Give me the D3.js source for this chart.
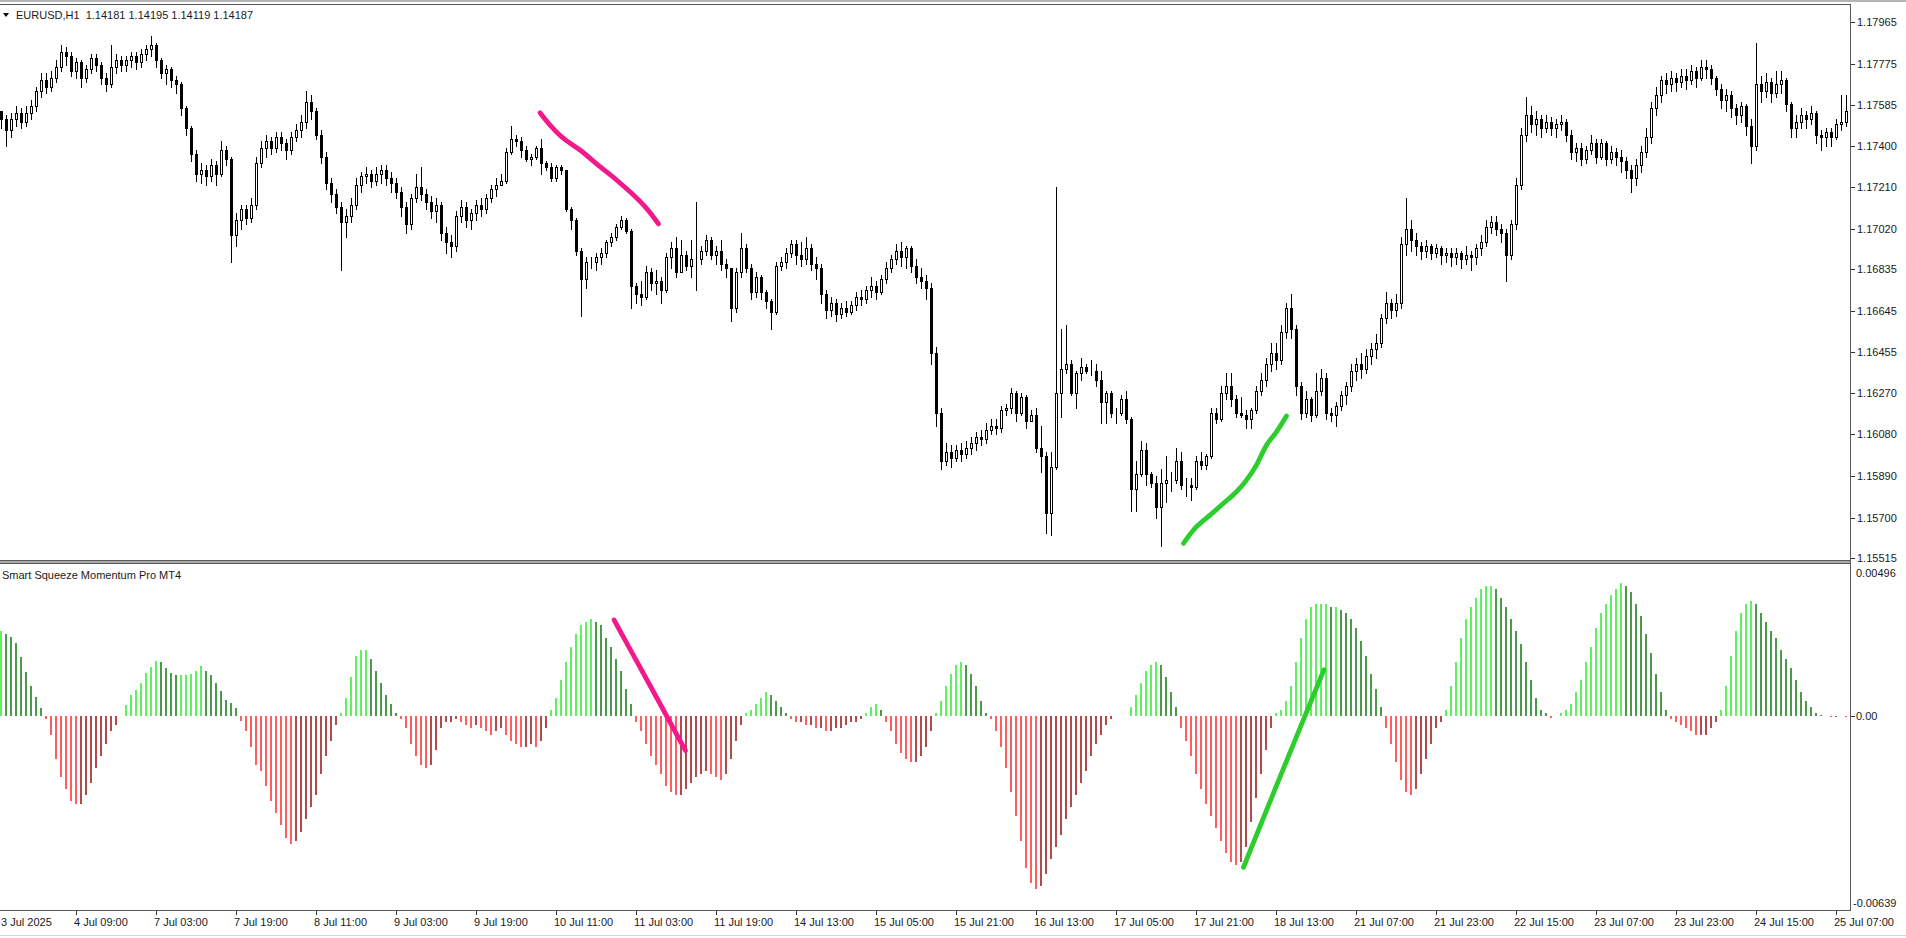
<!DOCTYPE html>
<html><head><meta charset="utf-8">
<script src="https://cdn.jsdelivr.net/npm/d3@7"></script>
<style>
html,body{margin:0;padding:0;background:#fff;overflow:hidden}
svg{display:block;font-family:"Liberation Sans",Arial,sans-serif;font-size:11px}
text{white-space:pre}
</style></head><body>
<svg id="c" width="1906" height="938"></svg>
<script>
// ---------- DATA ----------
const symbolTitle = "EURUSD,H1  1.14181 1.14195 1.14119 1.14187";
const indicatorTitle = "Smart Squeeze Momentum Pro MT4";
const firstOpen = 1.1756;
const close = [
1.1752,1.1747,1.1752,1.1755,1.1751,1.1755,1.1758,1.1765,1.1770,1.1767,
1.1771,1.1776,1.1783,1.1781,1.1774,1.1778,1.1771,1.1775,1.1780,1.1777,
1.1771,1.1768,1.1776,1.1779,1.1777,1.1779,1.1781,1.1778,1.1782,1.1784,
1.1786,1.1779,1.1773,1.1775,1.1770,1.1768,1.1757,1.1748,1.1736,1.1727,
1.1729,1.1726,1.1731,1.1727,1.1738,1.1734,1.1699,1.1706,1.1711,1.1707,
1.1713,1.1732,1.1739,1.1742,1.1739,1.1744,1.1741,1.1738,1.1744,1.1747,
1.1751,1.1760,1.1756,1.1745,1.1735,1.1723,1.1718,1.1712,1.1705,1.1708,
1.1713,1.1722,1.1726,1.1727,1.1724,1.1727,1.1729,1.1725,1.1723,1.1719,
1.1712,1.1704,1.1716,1.1721,1.1718,1.1714,1.1710,1.1713,1.1700,1.1696,
1.1694,1.1708,1.1712,1.1706,1.1709,1.1713,1.1711,1.1716,1.1720,1.1722,
1.1724,1.1737,1.1743,1.1742,1.1738,1.1734,1.1735,1.1739,1.1732,1.1730,
1.1725,1.1730,1.1729,1.1711,1.1706,1.1692,1.1679,1.1687,1.1687,1.1689,
1.1691,1.1696,1.1698,1.1703,1.1706,1.1701,1.1676,1.1672,1.1671,1.1682,
1.1677,1.1678,1.1674,1.1689,1.1693,1.1682,1.1690,1.1685,1.1688,1.1688,
1.1692,1.1697,1.1690,1.1692,1.1686,1.1684,1.1666,1.1682,1.1693,1.1684,
1.1673,1.1680,1.1673,1.1669,1.1664,1.1685,1.1687,1.1691,1.1695,1.1690,
1.1688,1.1693,1.1686,1.1684,1.1672,1.1665,1.1668,1.1663,1.1666,1.1664,
1.1667,1.1671,1.1670,1.1674,1.1676,1.1673,1.1679,1.1684,1.1688,1.1692,
1.1689,1.1693,1.1685,1.1680,1.1678,1.1675,1.1645,1.1618,1.1596,1.1600,
1.1597,1.1601,1.1599,1.1602,1.1604,1.1607,1.1606,1.1610,1.1612,1.1611,
1.1619,1.1620,1.1627,1.1618,1.1625,1.1614,1.1617,1.1602,1.1598,1.1572,
1.1593,1.1627,1.1638,1.1640,1.1627,1.1636,1.1639,1.1637,1.1637,1.1633,
1.1623,1.1627,1.1618,1.1618,1.1624,1.1615,1.1583,1.1590,1.1601,1.1590,
1.1586,1.1575,1.1586,1.1587,1.1587,1.1596,1.1585,1.1585,1.1584,1.1596,
1.1594,1.1598,1.1618,1.1615,1.1627,1.1630,1.1624,1.1618,1.1617,1.1615,
1.1619,1.1628,1.1633,1.1640,1.1645,1.1642,1.1655,1.1666,1.1656,1.1630,
1.1618,1.1624,1.1617,1.1628,1.1634,1.1618,1.1617,1.1621,1.1626,1.1630,
1.1637,1.1640,1.1638,1.1644,1.1647,1.1650,1.1661,1.1668,1.1665,1.1668,
1.1695,1.1702,1.1697,1.1694,1.1692,1.1694,1.1691,1.1693,1.1690,1.1691,
1.1689,1.1691,1.1688,1.1690,1.1689,1.1693,1.1696,1.1703,1.1705,1.1702,
1.1700,1.1690,1.1704,1.1722,1.1745,1.1754,1.1750,1.1752,1.1748,1.1751,
1.1748,1.1750,1.1751,1.1745,1.1737,1.1739,1.1734,1.1738,1.1741,1.1735,
1.1741,1.1734,1.1737,1.1735,1.1733,1.1729,1.1725,1.1731,1.1737,1.1744,
1.1757,1.1763,1.1770,1.1768,1.1771,1.1769,1.1772,1.1770,1.1774,1.1771,
1.1776,1.1775,1.1771,1.1766,1.1761,1.1763,1.1757,1.1754,1.1758,1.1749,
1.1740,1.1768,1.1765,1.1769,1.1764,1.1768,1.1770,1.1759,1.1748,1.1751,
1.1754,1.1752,1.1755,1.1745,1.1744,1.1746,1.1744,1.1750,1.1751,1.1756];
const high = [
1.1756,1.1754,1.1755,1.1758,1.1757,1.1758,1.1761,1.1767,1.1773,1.1773,
1.1774,1.1779,1.1786,1.1785,1.1783,1.1780,1.1779,1.1777,1.1782,1.1782,
1.1778,1.1773,1.1786,1.1782,1.1781,1.1781,1.1783,1.1783,1.1784,1.1786,
1.1790,1.1787,1.1780,1.1777,1.1776,1.1772,1.1769,1.1758,1.1749,1.1738,
1.1732,1.1731,1.1734,1.1733,1.1742,1.1740,1.1735,1.1709,1.1713,1.1713,
1.1716,1.1735,1.1742,1.1745,1.1744,1.1746,1.1746,1.1743,1.1746,1.1750,
1.1754,1.1765,1.1763,1.1757,1.1747,1.1737,1.1725,1.1720,1.1714,1.1711,
1.1716,1.1725,1.1728,1.1730,1.1729,1.1730,1.1731,1.1731,1.1728,1.1725,
1.1721,1.1714,1.1718,1.1727,1.1730,1.1720,1.1717,1.1716,1.1714,1.1703,
1.1699,1.1710,1.1715,1.1714,1.1711,1.1715,1.1716,1.1718,1.1722,1.1725,
1.1727,1.1739,1.1749,1.1745,1.1744,1.1740,1.1736,1.1740,1.1743,1.1733,
1.1732,1.1731,1.1731,1.1729,1.1712,1.1707,1.1693,1.1689,1.1689,1.1691,
1.1693,1.1697,1.1700,1.1704,1.1708,1.1707,1.1702,1.1677,1.1678,1.1685,
1.1684,1.1683,1.1680,1.1691,1.1696,1.1698,1.1697,1.1692,1.1697,1.1714,
1.1694,1.1699,1.1698,1.1694,1.1697,1.1688,1.1684,1.1684,1.1700,1.1695,
1.1686,1.1682,1.1681,1.1674,1.1670,1.1687,1.1689,1.1693,1.1697,1.1697,
1.1696,1.1698,1.1695,1.1689,1.1686,1.1674,1.1671,1.1670,1.1668,1.1669,
1.1669,1.1673,1.1674,1.1676,1.1680,1.1678,1.1681,1.1687,1.1690,1.1695,
1.1696,1.1694,1.1694,1.1688,1.1684,1.1681,1.1677,1.1648,1.1620,1.1604,
1.1603,1.1603,1.1604,1.1605,1.1607,1.1609,1.1610,1.1613,1.1615,1.1615,
1.1621,1.1622,1.1629,1.1628,1.1627,1.1626,1.1619,1.1620,1.1612,1.1600,
1.1600,1.1721,1.1656,1.1658,1.1642,1.1637,1.1643,1.1640,1.1642,1.1640,
1.1637,1.1628,1.1628,1.1620,1.1626,1.1628,1.1616,1.1596,1.1605,1.1604,
1.1591,1.1589,1.1592,1.1598,1.1591,1.1602,1.1600,1.1588,1.1588,1.1598,
1.1600,1.1599,1.1620,1.1620,1.1630,1.1636,1.1636,1.1626,1.1625,1.1619,
1.1620,1.1630,1.1636,1.1643,1.1650,1.1650,1.1658,1.1668,1.1672,1.1658,
1.1632,1.1628,1.1625,1.1636,1.1638,1.1636,1.1620,1.1623,1.1628,1.1632,
1.1640,1.1643,1.1645,1.1647,1.1650,1.1654,1.1663,1.1673,1.1670,1.1672,
1.1698,1.1716,1.1706,1.1700,1.1696,1.1697,1.1695,1.1695,1.1694,1.1693,
1.1693,1.1693,1.1692,1.1694,1.1692,1.1695,1.1699,1.1706,1.1708,1.1708,
1.1704,1.1702,1.1706,1.1725,1.1748,1.1762,1.1758,1.1756,1.1754,1.1754,
1.1753,1.1752,1.1754,1.1752,1.1747,1.1741,1.1741,1.1740,1.1745,1.1743,
1.1743,1.1742,1.1740,1.1739,1.1738,1.1735,1.1731,1.1734,1.1740,1.1748,
1.1760,1.1767,1.1772,1.1773,1.1774,1.1773,1.1775,1.1775,1.1777,1.1776,
1.1779,1.1779,1.1777,1.1772,1.1768,1.1766,1.1765,1.1759,1.1760,1.1759,
1.1752,1.1787,1.1772,1.1773,1.1771,1.1774,1.1774,1.1771,1.1760,1.1754,
1.1757,1.1756,1.1758,1.1756,1.1747,1.1748,1.1748,1.1752,1.1763,1.1763];
const low = [
1.1748,1.1740,1.1744,1.1749,1.1748,1.1749,1.1752,1.1756,1.1762,1.1764,
1.1765,1.1769,1.1774,1.1777,1.1772,1.1771,1.1767,1.1769,1.1773,1.1774,
1.1768,1.1765,1.1767,1.1773,1.1774,1.1774,1.1776,1.1775,1.1776,1.1779,
1.1781,1.1776,1.1771,1.1768,1.1767,1.1764,1.1754,1.1745,1.1733,1.1724,
1.1723,1.1722,1.1724,1.1722,1.1726,1.1731,1.1687,1.1694,1.1702,1.1704,
1.1705,1.1711,1.1730,1.1735,1.1736,1.1737,1.1738,1.1734,1.1736,1.1742,
1.1744,1.1748,1.1752,1.1743,1.1732,1.1720,1.1714,1.1709,1.1683,1.1698,
1.1705,1.1711,1.1719,1.1723,1.1721,1.1722,1.1723,1.1722,1.1719,1.1716,
1.1708,1.1700,1.1702,1.1714,1.1715,1.1711,1.1707,1.1705,1.1697,1.1691,
1.1689,1.1692,1.1705,1.1703,1.1702,1.1706,1.1708,1.1709,1.1714,1.1717,
1.1722,1.1723,1.1736,1.1740,1.1735,1.1733,1.1731,1.1734,1.1727,1.1729,
1.1724,1.1724,1.1727,1.1710,1.1702,1.1690,1.1662,1.1675,1.1684,1.1683,
1.1686,1.1689,1.1694,1.1697,1.1702,1.1700,1.1666,1.1668,1.1667,1.1670,
1.1674,1.1672,1.1668,1.1673,1.1684,1.1680,1.1686,1.1683,1.1680,1.1674,
1.1686,1.1690,1.1688,1.1686,1.1683,1.1680,1.1660,1.1664,1.1680,1.1682,
1.1670,1.1671,1.1670,1.1666,1.1656,1.1663,1.1683,1.1684,1.1689,1.1686,
1.1685,1.1686,1.1683,1.1679,1.1668,1.1661,1.1662,1.1660,1.1661,1.1662,
1.1663,1.1665,1.1667,1.1668,1.1671,1.1670,1.1672,1.1677,1.1682,1.1686,
1.1685,1.1684,1.1682,1.1677,1.1675,1.1670,1.1640,1.1612,1.1592,1.1594,
1.1593,1.1596,1.1596,1.1597,1.1599,1.1601,1.1603,1.1604,1.1608,1.1608,
1.1609,1.1617,1.1618,1.1614,1.1617,1.1611,1.1614,1.1600,1.1591,1.1563,
1.1562,1.1592,1.1616,1.1636,1.1626,1.1620,1.1633,1.1636,1.1635,1.1630,
1.1613,1.1613,1.1616,1.1613,1.1617,1.1613,1.1573,1.1573,1.1589,1.1585,
1.1584,1.1570,1.1557,1.1577,1.1582,1.1586,1.1583,1.1580,1.1578,1.1583,
1.1592,1.1592,1.1597,1.1613,1.1614,1.1624,1.1621,1.1616,1.1616,1.1611,
1.1611,1.1618,1.1626,1.1630,1.1637,1.1638,1.1640,1.1652,1.1652,1.1626,
1.1615,1.1616,1.1614,1.1616,1.1626,1.1615,1.1614,1.1612,1.1619,1.1622,
1.1628,1.1633,1.1634,1.1636,1.1640,1.1643,1.1648,1.1659,1.1661,1.1662,
1.1666,1.1690,1.1692,1.1690,1.1688,1.1689,1.1688,1.1689,1.1686,1.1687,
1.1685,1.1686,1.1684,1.1686,1.1683,1.1686,1.1690,1.1694,1.1700,1.1699,
1.1696,1.1678,1.1688,1.1702,1.1720,1.1742,1.1746,1.1745,1.1744,1.1746,
1.1745,1.1744,1.1747,1.1742,1.1734,1.1733,1.1731,1.1732,1.1736,1.1732,
1.1734,1.1731,1.1732,1.1731,1.1728,1.1725,1.1719,1.1722,1.1728,1.1735,
1.1741,1.1754,1.1760,1.1764,1.1765,1.1765,1.1767,1.1766,1.1768,1.1767,
1.1770,1.1771,1.1768,1.1763,1.1757,1.1756,1.1753,1.1750,1.1751,1.1745,
1.1732,1.1738,1.1760,1.1762,1.1760,1.1762,1.1764,1.1756,1.1744,1.1744,
1.1748,1.1748,1.1750,1.1741,1.1738,1.1740,1.1740,1.1743,1.1747,1.1749];
const momentum = [
0.00283,0.00272,0.00262,0.00242,0.00196,0.00147,0.00101,0.00065,0.00029,-0.00008,
-0.0006,-0.0014,-0.0020,-0.0024,-0.0028,-0.0029,-0.0029,-0.0026,-0.0022,-0.0017,
-0.0013,-0.0009,-0.0005,-0.0003,0,0.00038,0.00071,0.00088,0.0011,0.00144,
0.00163,0.00183,0.0018,0.0016,0.00144,0.00137,0.00137,0.00137,0.0014,0.0015,
0.00167,0.0015,0.00137,0.0011,0.00082,0.00055,0.00044,0.00027,-0.00016,-0.0005,
-0.0010,-0.0016,-0.0018,-0.0023,-0.0028,-0.0032,-0.0036,-0.0040,-0.0042,-0.0041,
-0.0038,-0.0034,-0.0030,-0.0026,-0.0019,-0.0013,-0.0008,-0.0003,0.0001,0.0006,
0.0013,0.0020,0.0022,0.0022,0.0019,0.0015,0.0011,0.0007,0.0004,0.0001,
-0.0001,-0.0004,-0.0009,-0.0013,-0.0016,-0.0017,-0.0016,-0.0011,-0.0004,-0.0002,
-0.0002,-0.0001,-0.0002,-0.0003,-0.0004,-0.0003,-0.0004,-0.0005,-0.0006,-0.0005,
-0.0004,-0.0006,-0.0008,-0.0009,-0.0010,-0.0010,-0.0009,-0.0010,-0.0008,-0.0004,
0.0002,0.0006,0.0012,0.0018,0.0023,0.0027,0.0030,0.0031,0.0032,0.0031,
0.0030,0.0026,0.0023,0.0019,0.0015,0.0009,0.0004,-0.0002,-0.0005,-0.0009,
-0.0013,-0.0016,-0.0019,-0.0023,-0.0025,-0.0026,-0.0026,-0.0024,-0.0022,-0.0020,
-0.0019,-0.0018,-0.0019,-0.0020,-0.0021,-0.0019,-0.0014,-0.0008,-0.0003,0.0001,
0.0002,0.0004,0.0006,0.0008,0.0007,0.0005,0.0003,0.0001,-0.0001,-0.0002,
-0.0002,-0.0003,-0.0003,-0.0004,-0.0004,-0.0005,-0.0005,-0.0004,-0.0004,-0.0003,
-0.0002,-0.0002,-0.0001,0.0001,0.0003,0.0004,0.0002,-0.0002,-0.0005,-0.0009,
-0.0012,-0.0014,-0.0015,-0.0015,-0.0013,-0.0010,-0.0005,0.0001,0.0005,0.0010,
0.0014,0.0017,0.0018,0.0017,0.0014,0.0010,0.0005,0.0001,-0.0001,-0.0005,
-0.0010,-0.0017,-0.0025,-0.0033,-0.0041,-0.0050,-0.0055,-0.0057,-0.0056,-0.0052,
-0.0047,-0.0043,-0.0039,-0.0034,-0.0030,-0.0026,-0.0022,-0.0018,-0.0013,-0.0009,
-0.0006,-0.0003,-0.0001,0,0,0,0.0003,0.0007,0.0011,0.0015,
0.0017,0.0018,0.0017,0.0013,0.0008,0.0003,-0.0004,-0.0008,-0.0013,-0.0019,
-0.0024,-0.0029,-0.0033,-0.0037,-0.0041,-0.0045,-0.0048,-0.0049,-0.0048,-0.0043,
-0.0035,-0.0027,-0.0019,-0.0011,-0.0004,0.0001,0.0002,0.0005,0.0010,0.0018,
0.0026,0.0032,0.0036,0.0037,0.0037,0.0037,0.0036,0.0036,0.0035,0.0034,
0.0032,0.0029,0.0025,0.0020,0.0014,0.0009,0.0003,-0.0004,-0.0009,-0.0015,
-0.0021,-0.0025,-0.0026,-0.0024,-0.0019,-0.0014,-0.0009,-0.0004,-0.0002,0.0002,
0.0010,0.0018,0.0026,0.0032,0.0036,0.0039,0.0042,0.0043,0.0043,0.0042,
0.0039,0.0036,0.0032,0.0028,0.0024,0.0018,0.0012,0.0006,0.0002,0.0001,
-0.00005,0,0.0001,0.0002,0.0004,0.0008,0.0012,0.0018,0.0023,0.0029,
0.0034,0.0037,0.0040,0.0042,0.0044,0.0043,0.0041,0.0037,0.0033,0.0027,
0.0021,0.0014,0.0008,0.0002,-0.0001,-0.0002,-0.0003,-0.0004,-0.0005,-0.0006,
-0.0006,-0.0006,-0.0004,-0.0002,0.0002,0.0010,0.0020,0.0028,0.0034,0.0037,
0.0038,0.0037,0.0034,0.0031,0.0028,0.0026,0.0022,0.0019,0.0016,0.0012,
0.0008,0.0005,0.0003,0.0001,0.00005,0,-0.00003,-0.00003,0,-0.00003];
const priceTicks = ["1.17965","1.17775","1.17585","1.17400","1.17210","1.17020","1.16835","1.16645","1.16455","1.16270","1.16080","1.15890","1.15700","1.15515"];
const momTicks = ["0.00496","0.00","-0.00639"];
const timeLabels = ["3 Jul 2025","4 Jul 09:00","7 Jul 03:00","7 Jul 19:00","8 Jul 11:00","9 Jul 03:00","9 Jul 19:00","10 Jul 11:00","11 Jul 03:00","11 Jul 19:00","14 Jul 13:00","15 Jul 05:00","15 Jul 21:00","16 Jul 13:00","17 Jul 05:00","17 Jul 21:00","18 Jul 13:00","21 Jul 07:00","21 Jul 23:00","22 Jul 15:00","23 Jul 07:00","23 Jul 23:00","24 Jul 15:00","25 Jul 07:00"];
const timeLabelBars = [-1,15,31,47,63,79,95,111,127,143,159,175,191,207,223,239,255,271,287,303,319,335,351,367];
// hand-drawn annotation strokes: [bar index, value]
const pinkPriceStroke = [[107.8,1.1755],[109.8,1.17494],[112.5,1.17433],[115.8,1.1738],[119.8,1.17304],[123.1,1.17243],[126.5,1.17174],[129.1,1.17113],[131.5,1.17042]];
const greenPriceStroke = [[236.5,1.15582],[239.1,1.15658],[241.8,1.15711],[244.5,1.15765],[247.1,1.15818],[249.1,1.15871],[251.1,1.1594],[253.1,1.16031],[255.1,1.16092],[257.1,1.16164]];
const pinkMomStroke = [[122.6,0.00318],[129.7,0.00105],[136.9,-0.00113]];
const greenMomStroke = [[248.5,-0.00498],[256.5,-0.00172],[264.6,0.00154]];

// ---------- LAYOUT ----------
const plotRight = 1850, upTop = 5, upBot = 560, loTop = 564, loBot = 910;
const svg = d3.select("#c");
const x = d3.scaleLinear().domain([0, 369]).range([1, 1846]);
const y = d3.scaleLinear().domain([1.15515, 1.17965]).range([558, 22]);
const ym = d3.scaleLinear().domain([-0.00639, 0.00496]).range([910, 566]);
const cx = i => Math.round(x(i));

const defs = svg.append("defs");
defs.append("clipPath").attr("id","cu").append("rect").attr("x",0).attr("y",upTop+1).attr("width",plotRight).attr("height",upBot-upTop-1);
defs.append("clipPath").attr("id","cl").append("rect").attr("x",0).attr("y",loTop).attr("width",plotRight).attr("height",loBot-loTop);

// window decoration
svg.append("rect").attr("x",0).attr("y",0).attr("width",1906).attr("height",2).attr("fill","#b4b4b4");
svg.append("line").attr("x1",0).attr("x2",1906).attr("y1",935.5).attr("y2",935.5).attr("stroke","#d6d6d6");

// ---------- CANDLES ----------
const gc = svg.append("g").attr("clip-path","url(#cu)").attr("shape-rendering","crispEdges");
const bars = close.map((c,i)=>({i, o: i? close[i-1] : firstOpen, c, h: high[i], l: low[i]}));
gc.selectAll("line.w").data(bars).join("line").attr("class","w")
  .attr("x1",d=>cx(d.i)+0.5).attr("x2",d=>cx(d.i)+0.5)
  .attr("y1",d=>Math.round(y(Math.max(d.h,d.o,d.c)))).attr("y2",d=>Math.round(y(Math.min(d.l,d.o,d.c)))+1)
  .attr("stroke","#000").attr("stroke-width",1);
gc.selectAll("rect.b").data(bars).join("rect").attr("class","b")
  .each(function(d){
    const s = d3.select(this);
    const yo = Math.round(y(d.o)), yc = Math.round(y(d.c));
    if (d.c >= d.o) {
      s.attr("x",cx(d.i)-0.5).attr("y",yc+0.5).attr("width",2).attr("height",Math.max(0,yo-yc))
       .attr("fill","#fff").attr("stroke","#000").attr("stroke-width",1);
    } else {
      s.attr("x",cx(d.i)-1).attr("y",yo).attr("width",3).attr("height",Math.max(1,yc-yo+1)).attr("fill","#000");
    }
  });

// ---------- MOMENTUM HISTOGRAM ----------
const gm = svg.append("g").attr("clip-path","url(#cl)").attr("shape-rendering","crispEdges");
const hcol = (v,i) => {
  if (v >= 0) { const p = i ? momentum[i-1] : -Infinity; return (v >= p) ? "#5ff05f" : "#4a9a4a"; }
  const pn = i ? momentum[i-1] : Infinity;
  return (v < pn) ? "#ff5e5e" : "#b24c4c";
};
const z = Math.round(ym(0));
gm.selectAll("rect").data(momentum.map((v,i)=>({v,i})).filter(d=>d.v!==0)).join("rect")
  .attr("x",d=>cx(d.i)-1).attr("width",2)
  .attr("y",d=> d.v>0 ? Math.round(ym(d.v)) : z)
  .attr("height",d=> Math.max(1, Math.abs(Math.round(ym(d.v)) - z)))
  .attr("fill",d=>hcol(d.v,d.i));

// ---------- ANNOTATION STROKES ----------
const lp = d3.line().x(d=>x(d[0])).y(d=>y(d[1])).curve(d3.curveCatmullRom);
const lm = d3.line().x(d=>x(d[0])).y(d=>ym(d[1])).curve(d3.curveCatmullRom);
const strokeStyle = (p,col)=>p.attr("fill","none").attr("stroke",col).attr("stroke-width",4.8).attr("stroke-linecap","round").attr("stroke-linejoin","round");
strokeStyle(svg.append("path").attr("d",lp(pinkPriceStroke)),"#f3188c");
strokeStyle(svg.append("path").attr("d",lp(greenPriceStroke)),"#2ccd2c");
strokeStyle(svg.append("path").attr("d",lm(pinkMomStroke)),"#f3188c");
strokeStyle(svg.append("path").attr("d",lm(greenMomStroke)),"#2ccd2c");

// ---------- FRAMES ----------
const fr = svg.append("g").attr("shape-rendering","crispEdges");
fr.append("line").attr("x1",0).attr("x2",plotRight).attr("y1",upTop-0.5).attr("y2",upTop-0.5).attr("stroke","#5a5a5a");
fr.append("rect").attr("x",0).attr("y",upBot).attr("width",plotRight).attr("height",4).attr("fill","#a8a8a8");
fr.append("line").attr("x1",0).attr("x2",plotRight).attr("y1",upBot+0.5).attr("y2",upBot+0.5).attr("stroke","#5a5a5a");
fr.append("line").attr("x1",0).attr("x2",plotRight).attr("y1",upBot+3.5).attr("y2",upBot+3.5).attr("stroke","#5a5a5a");
fr.append("line").attr("x1",0).attr("x2",plotRight+1).attr("y1",loBot+0.5).attr("y2",loBot+0.5).attr("stroke","#5a5a5a");
fr.append("line").attr("x1",plotRight+0.5).attr("x2",plotRight+0.5).attr("y1",upTop-1).attr("y2",loBot+1).attr("stroke","#5a5a5a");

// ---------- AXES ----------
const ax = svg.append("g");
priceTicks.forEach(t=>{
  const yy = Math.round(y(+t));
  ax.append("line").attr("x1",plotRight+1).attr("x2",plotRight+5).attr("y1",yy+0.5).attr("y2",yy+0.5).attr("stroke","#333").attr("shape-rendering","crispEdges");
  ax.append("text").attr("x",plotRight+7).attr("y",yy).attr("dy","0.35em").attr("fill","#1a1a1a").text(t);
});
momTicks.forEach(t=>{
  const v = +t;
  let yy = Math.round(ym(v));
  if (v === 0) {
    ax.append("line").attr("x1",plotRight+1).attr("x2",plotRight+5).attr("y1",yy+0.5).attr("y2",yy+0.5).attr("stroke","#333").attr("shape-rendering","crispEdges");
  }
  yy = Math.max(loTop+9, Math.min(loBot-7, yy));
  ax.append("text").attr("x", v<0 ? plotRight+3 : plotRight+6).attr("y",yy).attr("dy","0.35em").attr("fill","#1a1a1a").text(t);
});
timeLabels.forEach((t,j)=>{
  const xx = cx(timeLabelBars[j]);
  if (xx > 2) ax.append("line").attr("x1",xx+0.5).attr("x2",xx+0.5).attr("y1",loBot+1).attr("y2",loBot+5).attr("stroke","#333").attr("shape-rendering","crispEdges");
  ax.append("text").attr("x",Math.max(1, xx-2)).attr("y",926).attr("fill","#1a1a1a").text(t);
});

// ---------- TITLES ----------
svg.append("path").attr("d","M3,13 L9,13 L6,17 Z").attr("fill","#000");
svg.append("text").attr("x",16).attr("y",19).attr("fill","#1a1a1a").text(symbolTitle);
svg.append("text").attr("x",2).attr("y",579).attr("fill","#1a1a1a").text(indicatorTitle);
</script>
</body></html>
